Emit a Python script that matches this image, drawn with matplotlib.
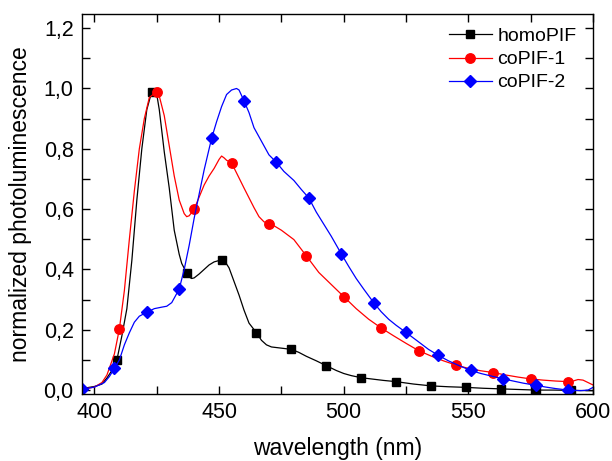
import numpy as np
import matplotlib
matplotlib.use("Agg")
import matplotlib.pyplot as plt
from matplotlib.ticker import MultipleLocator, FuncFormatter

plt.rcParams["font.family"] = ["Liberation Sans", "DejaVu Sans"]

# homoPIF
homo_wl = [395, 400, 403, 405, 407, 409, 411, 413, 415, 417, 419, 421, 423, 424, 425,
           426, 427, 428, 429, 430, 431, 432, 433, 434, 435, 437, 438, 439, 440, 442,
           444, 446, 448, 451, 452, 453, 454, 456, 458, 460, 462, 465, 467, 469, 471,
           474, 476, 479, 482, 485, 489, 493, 497, 500, 503, 507, 512, 516, 521, 528,
           535, 542, 549, 556, 563, 570, 577, 584, 591, 600]
homo_pl = [0.005, 0.012, 0.02, 0.04, 0.065, 0.10, 0.18, 0.27, 0.43, 0.63, 0.80, 0.93, 0.99, 0.995, 0.98,
           0.93, 0.86, 0.79, 0.73, 0.67, 0.60, 0.53, 0.49, 0.45, 0.42, 0.388, 0.375, 0.37, 0.372, 0.385,
           0.40, 0.415, 0.425, 0.432, 0.428, 0.418, 0.405, 0.36, 0.315, 0.265, 0.222, 0.19, 0.165, 0.15, 0.143,
           0.14, 0.138, 0.135, 0.125, 0.112, 0.097, 0.081, 0.065, 0.055, 0.048, 0.041, 0.036, 0.032, 0.028, 0.02,
           0.014, 0.011, 0.009, 0.006, 0.004, 0.002, 0.0, 0.0, -0.001, -0.002]
homo_marks = [409, 423, 437, 451, 465, 479, 493, 507, 521, 535, 549, 563, 577, 591]

# coPIF-1
co1_wl = [395, 400, 403, 405, 408, 410, 412, 414, 416, 418, 420, 422, 425, 426, 428,
          430, 432, 434, 436, 437, 438, 440, 442, 444, 446, 448, 450, 451, 452, 453,
          455, 457, 460, 464, 466, 468, 470, 472, 475, 480, 485, 490, 495, 500, 505,
          510, 515, 520, 525, 530, 535, 540, 545, 550, 555, 560, 565, 570, 575, 580,
          585, 590, 592, 594, 596, 598, 600]
co1_pl = [0.003, 0.01, 0.025, 0.05, 0.12, 0.203, 0.33, 0.50, 0.66, 0.80, 0.90, 0.97, 0.99, 0.975, 0.91,
          0.81, 0.71, 0.63, 0.585, 0.575, 0.578, 0.60, 0.64, 0.68, 0.71, 0.735, 0.765, 0.776, 0.77, 0.762,
          0.753, 0.72, 0.67, 0.605, 0.575, 0.558, 0.551, 0.545, 0.53, 0.499, 0.445, 0.39, 0.35, 0.31, 0.27,
          0.235, 0.206, 0.18, 0.155, 0.131, 0.113, 0.097, 0.083, 0.072, 0.064, 0.058, 0.05, 0.043, 0.037, 0.033,
          0.03, 0.028, 0.03, 0.035, 0.033, 0.025, 0.017]
co1_marks = [410, 425, 440, 455, 470, 485, 500, 515, 530, 545, 560, 575, 590]

# coPIF-2
co2_wl = [395, 400, 404, 406, 408, 410, 412, 414, 416, 418, 421, 424, 427, 429, 431,
          433, 434, 436, 438, 440, 442, 444, 446, 447, 449, 451, 453, 455, 457, 458,
          460, 462, 464, 466, 468, 470, 473, 476, 480, 483, 486, 489, 492, 495, 499,
          502, 505, 508, 512, 515, 518, 521, 525, 530, 534, 538, 542, 546, 551, 555,
          560, 564, 568, 572, 577, 581, 585, 590, 595, 598, 600]
co2_pl = [0.002, 0.01, 0.025, 0.045, 0.072, 0.10, 0.15, 0.19, 0.225, 0.245, 0.258, 0.27, 0.275, 0.278, 0.29,
          0.32, 0.335, 0.40, 0.48, 0.57, 0.65, 0.73, 0.80, 0.835, 0.89, 0.94, 0.98, 0.995, 1.0, 0.995,
          0.959, 0.92, 0.87, 0.84, 0.81, 0.78, 0.755, 0.725, 0.695, 0.665, 0.637, 0.59, 0.55, 0.51, 0.452,
          0.41, 0.37, 0.335, 0.29, 0.26, 0.235, 0.215, 0.191, 0.16, 0.135, 0.115, 0.097, 0.082, 0.065, 0.055,
          0.045, 0.037, 0.03, 0.023, 0.016, 0.01, 0.005, 0.0, -0.002, 0.0, 0.009]
co2_marks = [395, 408, 421, 434, 447, 460, 473, 486, 499, 512, 525, 538, 551, 564, 577, 590]

series = [
    ("homoPIF", homo_wl, homo_pl, homo_marks, "black", "s", 5.8),
    ("coPIF-1", co1_wl, co1_pl, co1_marks, "red", "o", 6.8),
    ("coPIF-2", co2_wl, co2_pl, co2_marks, "blue", "D", 6.5),
]

fig = plt.figure(figsize=(6.12, 4.61), dpi=100)
ax = fig.add_axes([82 / 612, 1 - 394 / 461, 511 / 612, 380 / 461])

for name, wl, pl, marks, col, mk, ms in series:
    wl = np.array(wl)
    idx = list(np.where(np.isin(wl, marks))[0])
    ax.plot(wl, pl, color=col, lw=0.9, marker=mk, ms=ms, markevery=idx, label=name)

ax.set_xlim(395, 600)
ax.set_ylim(-0.013, 1.247)
ax.xaxis.set_major_locator(MultipleLocator(50))
ax.xaxis.set_minor_locator(MultipleLocator(25))
ax.yaxis.set_major_locator(MultipleLocator(0.2))
ax.yaxis.set_minor_locator(MultipleLocator(0.1))
ax.yaxis.set_major_formatter(FuncFormatter(lambda v, p: f"{v:.1f}".replace(".", ",")))
ax.tick_params(which="both", direction="in", top=True, right=True, length=6, width=1.0,
               labelsize=15.5, pad=6)
for sp in ax.spines.values():
    sp.set_linewidth(1.0)

ax.set_xlabel("wavelength (nm)", fontsize=16.5, labelpad=10)
ax.set_ylabel("normalized photoluminescence", fontsize=16.5, labelpad=8)

ax.legend(loc="upper left", bbox_to_anchor=((449 - 82) / 511, 0.964), frameon=False,
          fontsize=14, handlelength=2.2, handletextpad=0.3, labelspacing=0.28,
          borderpad=0, borderaxespad=0)

fig.savefig("out.png", dpi=100)
